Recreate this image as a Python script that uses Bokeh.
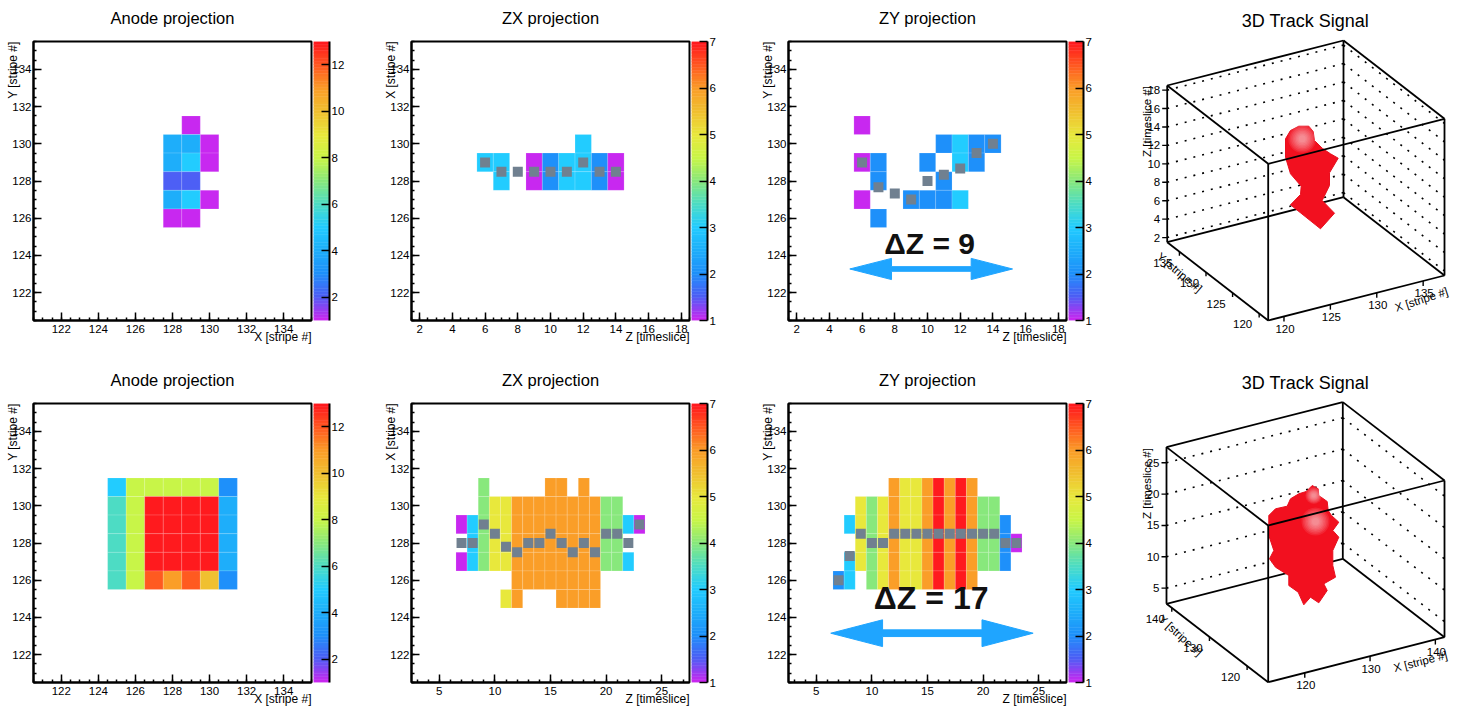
import math
import numpy as np
from bokeh.core.properties import value
from bokeh.embed import file_html
from bokeh.layouts import column, row
from bokeh.models import ColumnDataSource, FixedTicker, Label, LinearColorMapper, Range1d, SingleIntervalTicker, Title
from bokeh.plotting import figure
from bokeh.resources import INLINE

FONT = "Liberation Sans"

# colour scale (value on the 1..13 scale -> colour); the 1..7 scale maps on the same stops
stop_values = [1, 2, 3, 4, 5, 6, 7, 8, 9, 10, 11, 12, 13]
stop_colors = ["#c828f0", "#4d5ff5", "#1e90fa", "#1eaefa", "#22ccff", "#4ddcc4", "#88e87c",
               "#c8f548", "#e8e83c", "#f0c030", "#fa9e28", "#ff5a20", "#ff1a1e"]

# --- top row ---
a1_x = [129, 128, 129, 130, 128, 129, 130, 128, 129, 128, 129, 130, 128, 129]
a1_y = [131, 130, 130, 130, 129, 129, 129, 128, 128, 127, 127, 127, 126, 126]
a1_v = [1, 4, 4, 1, 4, 5, 1, 2, 2, 4, 5, 1, 1, 1]

zx1_z = [6, 7, 9, 10, 11, 12, 13, 14]
zx1_rows = [[129], [129, 128], [129, 128], [129, 128], [129, 128], [130, 129, 128], [129, 128], [129, 128]]
zx1_v = [3, 3, 1, 2, 3, 3, 2, 1]
zx1_track_z = [6, 7, 8, 9, 10, 11, 12, 13, 14]
zx1_track = [129, 128.5, 128.5, 128.5, 128.5, 128.5, 129, 128.5, 128.5]

zy1_z = [6, 7, 9, 10, 11, 12, 13, 14]
zy1_rows = [[131, 129, 127], [129, 128, 126], [127], [129, 127], [130, 128, 127], [130, 129, 127], [130, 129], [130]]
zy1_v = [1, 2, 2, 2, 2, 3, 2, 2]
zy1_track_z = [6, 7, 8, 9, 10, 11, 12, 13, 14]
zy1_track = [129, 127.67, 127.33, 127, 128, 128.33, 128.67, 129.5, 130]

# --- bottom row ---
a2_cols = [125, 126, 127, 128, 129, 130, 131]
a2_rows = [131, 130, 129, 128, 127, 126]
a2_v = [[5, 8, 8, 8, 8, 8, 3],
        [6, 8, 13, 13, 13, 13, 4],
        [6, 8, 13, 13, 13, 13, 4],
        [6, 8, 13, 13, 13, 13, 4],
        [6, 8, 13, 13, 13, 13, 4],
        [6, 8, 12, 11, 12, 10, 3]]

zx2_z = [7, 8, 9, 10, 11, 11, 12, 13, 14, 15, 16, 17, 18, 19, 20, 21, 22, 23]
zx2_rows = [[129, 127], [129, 128, 127], [131, 130, 129, 128, 127], [130, 129, 128, 127],
            [130, 129, 128, 127], [125], [130, 129, 128, 127, 126, 125], [130, 129, 128, 127, 126],
            [130, 129, 128, 127, 126], [131, 130, 129, 128, 127, 126], [131, 130, 129, 128, 127, 126, 125],
            [130, 129, 128, 127, 126, 125], [131, 130, 129, 128, 127, 126, 125],
            [130, 129, 128, 127, 126, 125], [130, 129, 128, 127], [130, 129, 128, 127], [129, 127], [129]]
zx2_v = [1, 3, 4, 5, 5, 5, 6, 6, 6, 6, 6, 6, 6, 6, 4, 4, 3, 1]
zx2_track_z = [7, 8, 9, 10, 11, 12, 13, 14, 15, 16, 17, 18, 19, 20, 21, 22, 23]
zx2_track = [128, 128, 129, 128.5, 127.8, 127.5, 128, 128, 128.5, 128, 127.5, 128, 127.5, 128.5, 128.5, 128, 129]

zy2_z = [7, 8, 9, 10, 11, 12, 13, 14, 15, 16, 17, 18, 19, 20, 21, 22, 23]
zy2_rows = [[126], [129, 127, 126], [130, 129, 128, 127], [130, 129, 128, 127, 126], [130, 129, 128, 127, 126],
            [131, 130, 129, 128, 127, 126], [131, 130, 129, 128, 127, 126], [131, 130, 129, 128, 127, 126],
            [131, 130, 129, 128, 127, 126], [131, 130, 129, 128, 127, 126], [131, 130, 129, 128, 127, 126],
            [131, 130, 129, 128, 127, 126], [131, 130, 129, 128, 127, 126], [130, 129, 128, 127],
            [130, 129, 128, 127], [129, 128, 127], [128]]
zy2_v = [2, 3, 5, 4, 5, 6, 5, 5, 6, 7, 6, 7, 6, 4, 4, 2, 1]
zy2_track_z = [7, 8, 9, 10, 11, 12, 13, 14, 15, 16, 17, 18, 19, 20, 21, 22, 23]
zy2_track = [126, 127.3, 128.5, 128, 128, 128.5, 128.5, 128.5, 128.5, 128.5, 128.5, 128.5, 128.5, 128.5, 128.5, 128, 128]

# delta-Z annotations: text, text z, text y, arrow tip z, head end z, head end z, tip z, arrow y, half-heights
dz1_text, dz1_at = "ΔZ = 9", (10.13, 124.63)
dz1_arrow = (5.25, 7.8, 12.67, 15.2, 123.27, 0.57, 0.125)
dz2_text, dz2_at = "ΔZ = 17", (15.33, 125.03)
dz2_arrow = (6.3, 10.96, 19.9, 24.5, 123.15, 0.72, 0.18)

# 3D blobs, read as outlines on the page
blob1_x = [1298.3, 1308.3, 1312.7, 1314, 1321.7, 1330, 1337.7, 1329, 1329, 1321.7, 1334, 1320, 1290, 1300, 1300.7, 1290, 1285, 1285, 1290]
blob1_y = [125.7, 125.7, 131, 140, 147.7, 153.3, 157.7, 172.3, 185, 200, 212.7, 228.3, 204.3, 194, 185.7, 173.3, 156.7, 138.3, 130]
blob2_x = [1311.7, 1317.7, 1318.3, 1326.7, 1327.7, 1331, 1338.3, 1332.3, 1338.3, 1332.3, 1332.3, 1335, 1323.3, 1326.7, 1318.3, 1310, 1303.3, 1297.7, 1288.3, 1288.3, 1275, 1269, 1273.3, 1268.3, 1268.3, 1275, 1286.7, 1290, 1298.3, 1305.7]
blob2_y = [485, 488.3, 495, 501, 510, 515, 521.7, 530, 536.7, 550, 565, 576.7, 583.3, 590, 602.3, 596.7, 604.3, 591.7, 585, 575, 566.7, 558.3, 550, 535, 515, 508.3, 505.7, 498.3, 493.3, 491]

track3d_1 = dict(xr=(118.3, 137.3), yr=(118.3, 137.3), zr=(1.5, 18.5),
                 xt=[120, 125, 130, 135], yt=[120, 125, 130, 135], zt=[2, 4, 6, 8, 10, 12, 14, 16, 18])
track3d_2 = dict(xr=(114.4, 141.4), yr=(114.4, 141.4), zr=(2.5, 27.5),
                 xt=[120, 130, 140], yt=[120, 130, 140], zt=[5, 10, 15, 20, 25])

# ---------------------------------------------------------------------------
STEPS = 8
palette = []
for a, b in zip(stop_colors[:-1], stop_colors[1:]):
    ca = [int(a[i:i + 2], 16) for i in (1, 3, 5)]
    cb = [int(b[i:i + 2], 16) for i in (1, 3, 5)]
    for s in range(STEPS):
        t = s / STEPS
        palette.append("#%02x%02x%02x" % tuple(round(u + (w - u) * t) for u, w in zip(ca, cb)))
palette.append(stop_colors[-1])

TXT = "11.5px"


def expand(zs, rows, vs):
    x, y, v = [], [], []
    for z, rr, val in zip(zs, rows, vs):
        for r in rr:
            x.append(z)
            y.append(r)
            v.append(val)
    return x, y, v


def panel(title, xr, ticks, xlabel, ylabel, cells, high, L, W, top, bottom, track=None, note=None, arrow=None):
    p = figure(width=L + W + 2, height=top + 279 + bottom, x_range=Range1d(*xr), y_range=Range1d(120.5, 135.5),
               output_backend="svg", toolbar_location=None, min_border_left=L, min_border_right=2,
               min_border_top=top, min_border_bottom=bottom)
    p.grid.visible = False
    p.outline_line_color = "black"
    p.outline_line_width = 2
    p.outline_line_alpha = 1
    mapper = LinearColorMapper(palette=palette, low=1, high=high)
    src = ColumnDataSource(dict(x=cells[0], y=cells[1], v=cells[2]))
    p.rect("x", "y", 1, 1, source=src, fill_color={"field": "v", "transform": mapper},
           line_color="white", line_alpha=0.15, line_width=1)
    if track is not None:
        p.scatter(track[0], track[1], marker="square", size=10, fill_color="#708090", line_color=None)
    if arrow is not None:
        z0, z1, z2, z3, y, hh, hs = arrow
        p.patch([z0, z1, z1, z2, z2, z3, z2, z2, z1, z1],
                [y, y + hh, y + hs, y + hs, y + hh, y, y - hh, y - hs, y - hs, y - hh],
                fill_color="#1fa5ff", line_color="#1fa5ff", line_width=1)
    if note is not None:
        p.text([note[1][0]], [note[1][1]], text=[note[0]], text_font=value(FONT), text_font_style="bold",
               text_font_size=value(note[2]), text_align="center", text_baseline="middle", text_color="#111111")
    for ax, tick in ((p.xaxis[0], ticks), (p.yaxis[0], (2, 4))):
        ax.ticker = SingleIntervalTicker(interval=tick[0], num_minor_ticks=tick[1])
        ax.major_label_text_font = FONT
        ax.major_label_text_font_size = TXT
        ax.major_label_text_color = "black"
        ax.axis_line_width = 2
        ax.major_tick_in = 8
        ax.major_tick_out = 0
        ax.minor_tick_in = 3
        ax.minor_tick_out = 0
        ax.major_tick_line_width = 1.5
        ax.minor_tick_line_width = 1.5
    p.xaxis[0].major_label_standoff = 4
    p.yaxis[0].major_label_standoff = 2
    p.add_layout(Title(text=xlabel, align="right", standoff=-16, text_font=FONT, text_font_size="12px",
                       text_font_style="normal", text_color="black"), "below")
    p.add_layout(Title(text=ylabel, align="right", standoff=-20, text_font=FONT, text_font_size="12px",
                       text_font_style="normal", text_color="black"), "left")
    p.add_layout(Label(x=(xr[0] + xr[1]) / 2, y=135.5, y_offset=24, text=title, text_font=FONT, text_font_size="16.5px",
                       text_align="center", text_baseline="middle", text_color="black"), "above")
    return p


def colorbar(high, ticks, width, right, top, bottom):
    p = figure(width=width + right, height=top + 279 + bottom, x_range=Range1d(0, 1), y_range=Range1d(1, high),
               output_backend="svg", toolbar_location=None, x_axis_type=None, y_axis_location="right",
               min_border_left=0, min_border_right=right, min_border_top=top, min_border_bottom=bottom)
    p.grid.visible = False
    p.outline_line_color = None
    edges = np.linspace(1, high, len(palette) + 1)
    p.quad(left=0, right=1, bottom=edges[:-1], top=edges[1:], fill_color=palette, line_color=palette, line_width=0.5)
    ax = p.yaxis[0]
    ax.ticker = FixedTicker(ticks=ticks)
    ax.major_label_text_font = FONT
    ax.major_label_text_font_size = TXT
    ax.major_label_text_color = "black"
    ax.major_label_standoff = 2
    ax.axis_line_width = 2
    ax.major_tick_in = 8
    ax.major_tick_out = 0
    ax.minor_tick_line_color = None
    ax.major_tick_line_width = 1.5
    return p


def box3d(title, y0, h, spec, corners, blob, shine, xt_angle, yt_angle, title_y, xt_at, yt_at, zt_at):
    p = figure(width=330, height=h, x_range=Range1d(1120, 1450), y_range=Range1d(y0 + h, y0),
               output_backend="svg", toolbar_location=None, x_axis_type=None, y_axis_type=None,
               min_border_left=0, min_border_right=0, min_border_top=0, min_border_bottom=0, frame_align=False)
    p.grid.visible = False
    p.outline_line_color = None
    front, right, left, height = corners

    def project(fx, fy, fz):
        return (front[0] + fx * (right[0] - front[0]) + fy * (left[0] - front[0]),
                front[1] + fx * (right[1] - front[1]) + fy * (left[1] - front[1]) - fz * height)

    def frac(v, r):
        return (v - r[0]) / (r[1] - r[0])

    def line(a, b, **kw):
        p.line([a[0], b[0]], [a[1], b[1]], line_color="black", **kw)

    # dotted z grid on the two back walls
    for z in spec["zt"]:
        fz = frac(z, spec["zr"])
        a, b, c = project(0, 1, fz), project(1, 1, fz), project(1, 0, fz)
        line(a, b, line_width=1.6, line_dash="2 7")
        line(b, c, line_width=1.6, line_dash="2 7")
    # back edges
    for a, b in (((0, 1, 0), (1, 1, 0)), ((1, 1, 0), (1, 0, 0)), ((1, 1, 0), (1, 1, 1)),
                 ((0, 1, 1), (1, 1, 1)), ((1, 1, 1), (1, 0, 1))):
        line(project(*a), project(*b), line_width=1.8)
    p.patch(blob[0], blob[1], fill_color="#f2101f", line_color="#e80f1e", line_width=1)
    for sx, sy, sizes in shine:
        for s in sizes:
            p.scatter([sx], [sy], marker="circle", size=s, fill_color="white", fill_alpha=0.09, line_color=None)
    # front edges
    for a, b in (((0, 0, 0), (1, 0, 0)), ((0, 0, 0), (0, 1, 0)), ((0, 1, 0), (0, 1, 1)), ((1, 0, 0), (1, 0, 1)),
                 ((0, 0, 0), (0, 0, 1)), ((0, 0, 1), (1, 0, 1)), ((0, 0, 1), (0, 1, 1))):
        line(project(*a), project(*b), line_width=1.8)

    def label(x, y, text, align="center", angle=0.0):
        p.text([x], [y], text=[text], text_font=value(FONT), text_font_size=value(TXT), text_align=align,
               text_baseline="middle", text_color="black", angle=math.radians(angle))

    for t in spec["xt"]:
        a = project(frac(t, spec["xr"]), 0, 0)
        line(a, (a[0], a[1] + 5), line_width=1.4)
        label(a[0] + 1, a[1] + 12.5, str(t))
    for t in spec["yt"]:
        a = project(0, frac(t, spec["yr"]), 0)
        line(a, (a[0], a[1] + 4), line_width=1.4)
        label(a[0] - 16.5, a[1] + 11, str(t))
    for t in spec["zt"]:
        a = project(0, 1, frac(t, spec["zr"]))
        line((a[0] - 5, a[1]), a, line_width=1.4)
        label(a[0] - 7, a[1], str(t), align="right")
    label(xt_at[0], xt_at[1], "X [stripe #]", angle=xt_angle)
    label(yt_at[0], yt_at[1], "Y [stripe #]", angle=yt_angle)
    label(zt_at[0], zt_at[1], "Z [timeslice #]", angle=90)
    p.text([1305], [title_y], text=[title], text_font=value(FONT), text_font_size=value("18px"),
           text_align="center", text_baseline="middle", text_color="black")
    return p


XS, YS = "X [stripe #]", "Y [stripe #]"
ZT = "Z [timeslice]"
T1, B1, T2, B2 = 41, 38, 45, 34
SHINE = [28, 25, 22, 19, 16, 13, 10, 7]

a2_x = [c for _ in a2_rows for c in a2_cols]
a2_y = [r for r in a2_rows for _ in a2_cols]
a2_f = [v for rr in a2_v for v in rr]

top = row(
    panel("Anode projection", (120.5, 135.5), (2, 4), XS, YS, (a1_x, a1_y, a1_v), 13, 33, 278, T1, B1),
    colorbar(13, [2, 4, 6, 8, 10, 12], 16, 41, T1, B1),
    panel("ZX projection", (1.5, 18.5), (2, 4), ZT, XS, expand(zx1_z, zx1_rows, zx1_v), 7, 41, 278, T1, B1,
          track=(zx1_track_z, zx1_track)),
    colorbar(7, [1, 2, 3, 4, 5, 6, 7], 16, 43, T1, B1),
    panel("ZY projection", (1.5, 18.5), (2, 4), ZT, YS, expand(zy1_z, zy1_rows, zy1_v), 7, 38, 278, T1, B1,
          track=(zy1_track_z, zy1_track), note=(dz1_text, dz1_at, "30px"), arrow=dz1_arrow),
    colorbar(7, [1, 2, 3, 4, 5, 6, 7], 15, 37, T1, B1),
    box3d("3D Track Signal", 0, 358, track3d_1,
          ((1267.7, 320), (1444, 275), (1166.7, 241.7), 156.7), (blob1_x, blob1_y),
          [(1301.7, 138.3, SHINE)], 18, -40, 20, (1421, 299), (1179, 272), (1146, 121)),
    spacing=0)

bottom = row(
    panel("Anode projection", (120.5, 135.5), (2, 4), XS, YS, (a2_x, a2_y, a2_f), 13, 33, 278, T2, B2),
    colorbar(13, [2, 4, 6, 8, 10, 12], 16, 41, T2, B2),
    panel("ZX projection", (2.5, 27.5), (5, 5), ZT, XS, expand(zx2_z, zx2_rows, zx2_v), 7, 41, 278, T2, B2,
          track=(zx2_track_z, zx2_track)),
    colorbar(7, [1, 2, 3, 4, 5, 6, 7], 16, 43, T2, B2),
    panel("ZY projection", (2.5, 27.5), (5, 5), ZT, YS, expand(zy2_z, zy2_rows, zy2_v), 7, 38, 278, T2, B2,
          track=(zy2_track_z, zy2_track), note=(dz2_text, dz2_at, "32px"), arrow=dz2_arrow),
    colorbar(7, [1, 2, 3, 4, 5, 6, 7], 15, 37, T2, B2),
    box3d("3D Track Signal", 358, 358, track3d_2,
          ((1267.7, 681.7), (1444, 636.7), (1166, 603.3), 156.7), (blob2_x, blob2_y),
          [(1313.3, 495, [s * 0.6 for s in SHINE]), (1315, 521, SHINE)], 14, -42, 382, (1420, 661), (1180, 635), (1146, 483)),
    spacing=0)

page = column(top, bottom, spacing=0)
open("out.html", "w").write(file_html(page, INLINE))
